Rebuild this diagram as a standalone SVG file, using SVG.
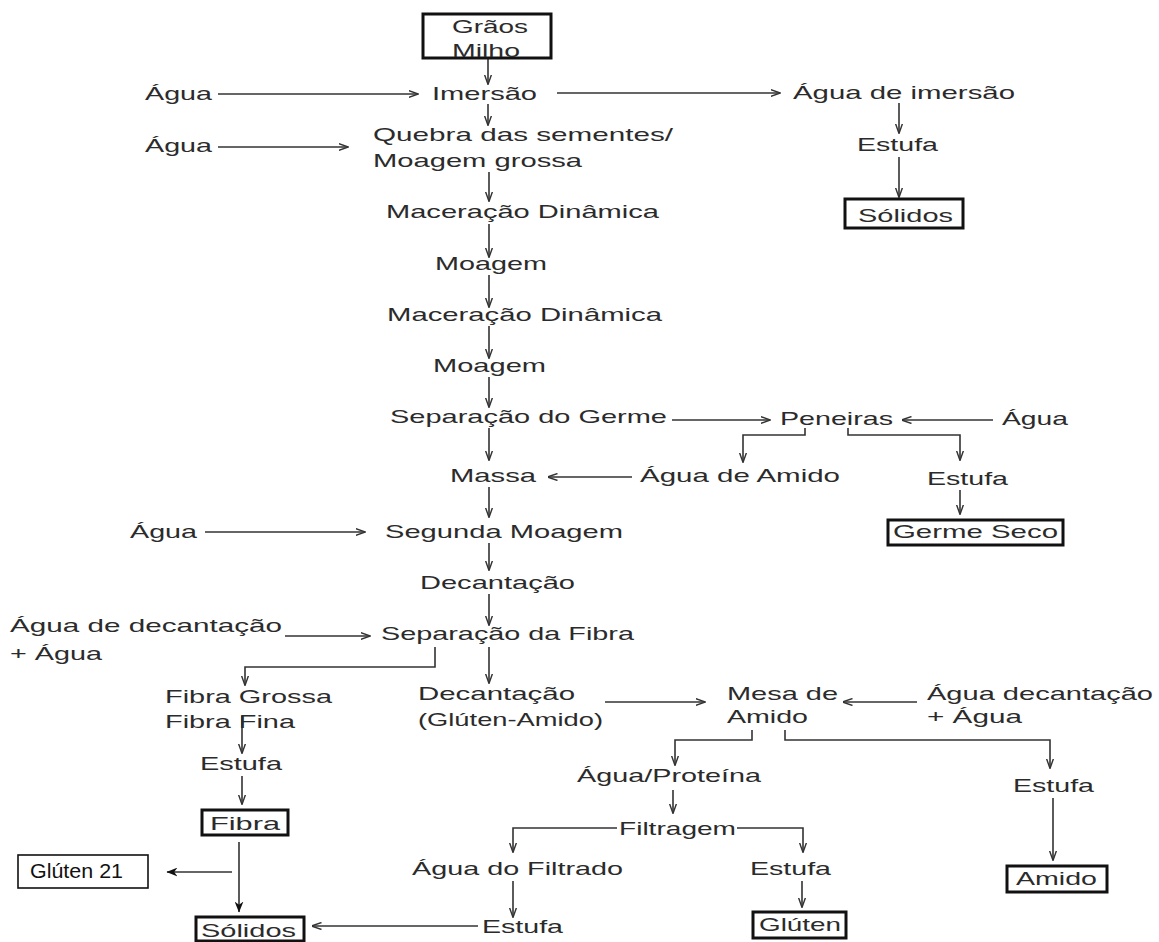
<svg xmlns="http://www.w3.org/2000/svg" width="1159" height="942" viewBox="0 0 1159 942">
<defs>
<style>
.t{font-family:"Liberation Sans",Arial,sans-serif;font-size:19px;fill:#2b2b2b}
.g{font-family:"Liberation Sans",Arial,sans-serif;font-size:21px;fill:#111}
.c{fill:none;stroke:#333;stroke-width:1.6}
.b{fill:#fff;stroke:#111;stroke-width:3}
.b1{fill:#fff;stroke:#111;stroke-width:1.6}
</style>
<marker id="a" viewBox="0 0 10 8" refX="9.5" refY="4" markerWidth="10" markerHeight="8" markerUnits="userSpaceOnUse" orient="auto"><path d="M0,0.5 L10,4 L0,7.5" fill="none" stroke="#333" stroke-width="1.4"/></marker>
<marker id="f" viewBox="0 0 10 8" refX="9.5" refY="4" markerWidth="11" markerHeight="9" markerUnits="userSpaceOnUse" orient="auto"><path d="M0,0 L10,4 L0,8 L3,4 Z" fill="#111"/></marker>
</defs>
<rect width="1159" height="942" fill="#fff"/>
<g id="connectors">
<path class="c" marker-end="url(#a)" d="M488,59 V84"/>
<path class="c" marker-end="url(#a)" d="M218,94 H418"/>
<path class="c" marker-end="url(#a)" d="M557,93 H780"/>
<path class="c" marker-end="url(#a)" d="M899,103 V133"/>
<path class="c" marker-end="url(#a)" d="M899,157 V197"/>
<path class="c" marker-end="url(#a)" d="M488,104 V125"/>
<path class="c" marker-end="url(#a)" d="M218,147 H348"/>
<path class="c" marker-end="url(#a)" d="M489,172 V201"/>
<path class="c" marker-end="url(#a)" d="M489,224 V257"/>
<path class="c" marker-end="url(#a)" d="M489,275 V307"/>
<path class="c" marker-end="url(#a)" d="M489,326 V358"/>
<path class="c" marker-end="url(#a)" d="M489,377 V407"/>
<path class="c" marker-end="url(#a)" d="M672,420 H770"/>
<path class="c" marker-end="url(#a)" d="M993,420 H902"/>
<path class="c" marker-end="url(#a)" d="M805,428 V435 H743 V462"/>
<path class="c" marker-end="url(#a)" d="M848,428 V435 H960 V460"/>
<path class="c" marker-end="url(#a)" d="M960,490 V514"/>
<path class="c" marker-end="url(#a)" d="M632,477 H548"/>
<path class="c" marker-end="url(#a)" d="M489,428 V460"/>
<path class="c" marker-end="url(#a)" d="M489,487 V517"/>
<path class="c" marker-end="url(#a)" d="M205,532 H365"/>
<path class="c" marker-end="url(#a)" d="M489,543 V570"/>
<path class="c" marker-end="url(#a)" d="M489,594 V625"/>
<path class="c" marker-end="url(#a)" d="M285,636 H370"/>
<path class="c" marker-end="url(#a)" d="M435,647 V667 H245 V685"/>
<path class="c" marker-end="url(#a)" d="M489,647 V683"/>
<path class="c" marker-end="url(#a)" d="M242,716 V753"/>
<path class="c" marker-end="url(#a)" d="M242,776 V804"/>
<path class="c" marker-end="url(#f)" d="M239,842 V912"/>
<path class="c" marker-end="url(#f)" d="M232,872 H167"/>
<path class="c" marker-end="url(#a)" d="M605,702 H705"/>
<path class="c" marker-end="url(#a)" d="M917,702 H843"/>
<path class="c" marker-end="url(#a)" d="M752,730 V740 H675 V765"/>
<path class="c" marker-end="url(#a)" d="M785,730 V740 H1050 V768"/>
<path class="c" marker-end="url(#a)" d="M1053,798 V860"/>
<path class="c" marker-end="url(#a)" d="M673,790 V813"/>
<path class="c" marker-end="url(#a)" d="M617,828 H513 V852"/>
<path class="c" marker-end="url(#a)" d="M737,828 H803 V852"/>
<path class="c" marker-end="url(#a)" d="M513,881 V917"/>
<path class="c" marker-end="url(#a)" d="M802,881 V907"/>
<path class="c" marker-end="url(#a)" d="M478,926 H312"/>
</g>
<g id="graos"><rect class="b" x="423" y="14" width="128" height="44"/><text class="t" x="452" y="33" textLength="76" lengthAdjust="spacingAndGlyphs">Grãos</text><text class="t" x="452" y="57" textLength="68" lengthAdjust="spacingAndGlyphs">Milho</text></g>
<g id="agua1"><text class="t" x="145" y="100" textLength="67" lengthAdjust="spacingAndGlyphs">Água</text></g>
<g id="imersao"><text class="t" x="432" y="100" textLength="105" lengthAdjust="spacingAndGlyphs">Imersão</text></g>
<g id="agua-imersao"><text class="t" x="793" y="99" textLength="222" lengthAdjust="spacingAndGlyphs">Água de imersão</text></g>
<g id="estufa1"><text class="t" x="857" y="151" textLength="81" lengthAdjust="spacingAndGlyphs">Estufa</text></g>
<g id="solidos1"><rect class="b" x="845" y="199" width="118" height="29"/><text class="t" x="858" y="222" textLength="95" lengthAdjust="spacingAndGlyphs">Sólidos</text></g>
<g id="agua2"><text class="t" x="145" y="152" textLength="67" lengthAdjust="spacingAndGlyphs">Água</text></g>
<g id="quebra"><text class="t" x="373" y="141" textLength="300" lengthAdjust="spacingAndGlyphs">Quebra das sementes/</text><text class="t" x="373" y="167" textLength="209" lengthAdjust="spacingAndGlyphs">Moagem grossa</text></g>
<g id="macer1"><text class="t" x="386" y="218" textLength="273" lengthAdjust="spacingAndGlyphs">Maceração Dinâmica</text></g>
<g id="moag1"><text class="t" x="435" y="270" textLength="112" lengthAdjust="spacingAndGlyphs">Moagem</text></g>
<g id="macer2"><text class="t" x="387" y="321" textLength="275" lengthAdjust="spacingAndGlyphs">Maceração Dinâmica</text></g>
<g id="moag2"><text class="t" x="433" y="372" textLength="113" lengthAdjust="spacingAndGlyphs">Moagem</text></g>
<g id="sepgerme"><text class="t" x="390" y="423" textLength="277" lengthAdjust="spacingAndGlyphs">Separação do Germe</text></g>
<g id="peneiras"><text class="t" x="780" y="425" textLength="113" lengthAdjust="spacingAndGlyphs">Peneiras</text></g>
<g id="agua3"><text class="t" x="1002" y="425" textLength="66" lengthAdjust="spacingAndGlyphs">Água</text></g>
<g id="massa"><text class="t" x="450" y="482" textLength="86" lengthAdjust="spacingAndGlyphs">Massa</text></g>
<g id="agua-amido"><text class="t" x="640" y="482" textLength="200" lengthAdjust="spacingAndGlyphs">Água de Amido</text></g>
<g id="estufa2"><text class="t" x="927" y="485" textLength="81" lengthAdjust="spacingAndGlyphs">Estufa</text></g>
<g id="germeseco"><rect class="b" x="888" y="520" width="175" height="25"/><text class="t" x="893" y="538" textLength="165" lengthAdjust="spacingAndGlyphs">Germe Seco</text></g>
<g id="agua4"><text class="t" x="130" y="538" textLength="67" lengthAdjust="spacingAndGlyphs">Água</text></g>
<g id="segunda"><text class="t" x="385" y="538" textLength="238" lengthAdjust="spacingAndGlyphs">Segunda Moagem</text></g>
<g id="decant1"><text class="t" x="420" y="589" textLength="155" lengthAdjust="spacingAndGlyphs">Decantação</text></g>
<g id="agua-decant1"><text class="t" x="10" y="632" textLength="272" lengthAdjust="spacingAndGlyphs">Água de decantação</text><text class="t" x="10" y="660" textLength="92" lengthAdjust="spacingAndGlyphs">+ Água</text></g>
<g id="sepfibra"><text class="t" x="381" y="640" textLength="253" lengthAdjust="spacingAndGlyphs">Separação da Fibra</text></g>
<g id="fibras"><text class="t" x="165" y="703" textLength="167" lengthAdjust="spacingAndGlyphs">Fibra Grossa</text><text class="t" x="165" y="728" textLength="130" lengthAdjust="spacingAndGlyphs">Fibra Fina</text></g>
<g id="decant2"><text class="t" x="418" y="700" textLength="157" lengthAdjust="spacingAndGlyphs">Decantação</text><text class="t" x="418" y="726" textLength="185" lengthAdjust="spacingAndGlyphs">(Glúten-Amido)</text></g>
<g id="mesa"><text class="t" x="727" y="700" textLength="111" lengthAdjust="spacingAndGlyphs">Mesa de</text><text class="t" x="727" y="723" textLength="81" lengthAdjust="spacingAndGlyphs">Amido</text></g>
<g id="agua-decant2"><text class="t" x="927" y="700" textLength="226" lengthAdjust="spacingAndGlyphs">Água decantação</text><text class="t" x="927" y="723" textLength="95" lengthAdjust="spacingAndGlyphs">+ Água</text></g>
<g id="estufa3"><text class="t" x="200" y="770" textLength="82" lengthAdjust="spacingAndGlyphs">Estufa</text></g>
<g id="fibra"><rect class="b" x="202" y="810" width="86" height="25"/><text class="t" x="210" y="830" textLength="70" lengthAdjust="spacingAndGlyphs">Fibra</text></g>
<g id="gluten21"><rect class="b1" x="18" y="855" width="130" height="33"/><text class="g" x="30" y="878" textLength="93" lengthAdjust="spacingAndGlyphs">Glúten 21</text></g>
<g id="solidos2"><rect class="b" x="196" y="917" width="108" height="24"/><text class="t" x="201" y="937" textLength="95" lengthAdjust="spacingAndGlyphs">Sólidos</text></g>
<g id="aguaprot"><text class="t" x="577" y="782" textLength="184" lengthAdjust="spacingAndGlyphs">Água/Proteína</text></g>
<g id="estufa4"><text class="t" x="1013" y="792" textLength="81" lengthAdjust="spacingAndGlyphs">Estufa</text></g>
<g id="amido"><rect class="b" x="1007" y="866" width="100" height="26"/><text class="t" x="1016" y="885" textLength="81" lengthAdjust="spacingAndGlyphs">Amido</text></g>
<g id="filtragem"><text class="t" x="619" y="835" textLength="117" lengthAdjust="spacingAndGlyphs">Filtragem</text></g>
<g id="aguafiltrado"><text class="t" x="412" y="875" textLength="211" lengthAdjust="spacingAndGlyphs">Água do Filtrado</text></g>
<g id="estufa5"><text class="t" x="750" y="875" textLength="81" lengthAdjust="spacingAndGlyphs">Estufa</text></g>
<g id="estufa6"><text class="t" x="482" y="933" textLength="81" lengthAdjust="spacingAndGlyphs">Estufa</text></g>
<g id="gluten"><rect class="b" x="753" y="912" width="93" height="26"/><text class="t" x="759" y="931" textLength="82" lengthAdjust="spacingAndGlyphs">Glúten</text></g>
</svg>
